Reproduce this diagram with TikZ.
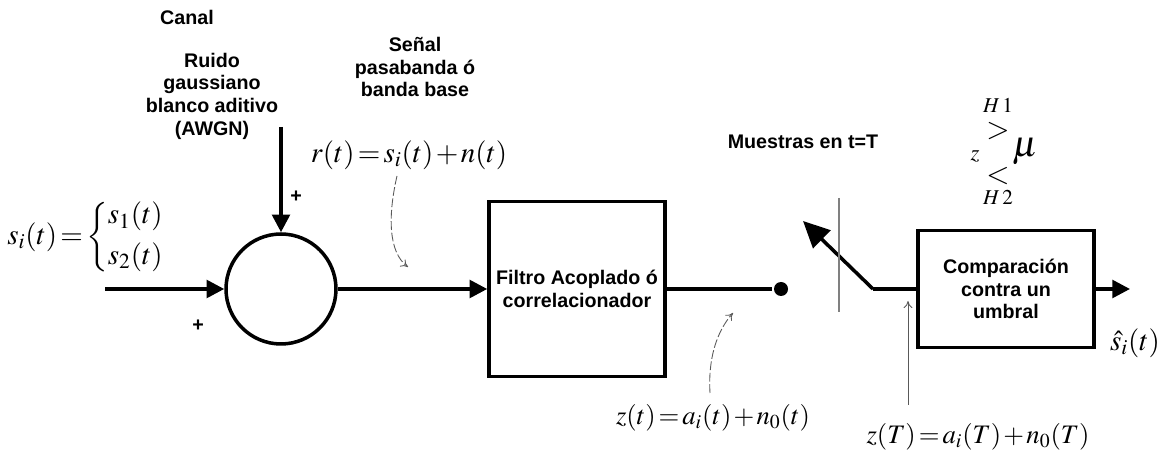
\documentclass[tikz,border=0pt]{standalone}
\usepackage{mathptmx}
\usepackage{fontspec}
\setmainfont{Liberation Serif}
\setsansfont{Liberation Sans}
\usetikzlibrary{arrows.meta}
\thickmuskip=2mu
\medmuskip=1.5mu

\begin{document}
\begin{tikzpicture}
   [x=0.02cm,y=-0.02cm,line width=2pt,
    lbl/.style={font=\sffamily\bfseries\fontsize{11.2}{12.9}\selectfont,align=center},
    eq/.style={font=\fontsize{16.5}{20}\selectfont},
    eqs/.style={font=\fontsize{15.2}{18}\selectfont},
    hip/.style={inner sep=0pt},
    bloque/.style={draw,rectangle,line width=2pt,inner sep=2pt},
    flecha/.style={-{Triangle[length=10pt,width=10pt]}},
    guia/.style={gray!70!black,line width=0.5pt,-{To[length=4pt,width=5pt]}}]
  \useasboundingbox (0,0) rectangle (1160,465);

  % bloques
  \node[circle,draw,minimum size=2.2cm,inner sep=0] (sum) at (281,289) {};
  \node[bloque,minimum width=3.52cm,minimum height=3.5cm,lbl] (filtro) at (577,289)
       {Filtro Acoplado ó\\correlacionador};
  \node[circle,fill,inner sep=0,minimum size=0.28cm] (punto) at (781,289) {};
  \node[bloque,minimum width=3.52cm,minimum height=2.34cm,lbl] (comp) at (1006,289)
       {Comparación\\contra un\\umbral};

  \coordinate (ent) at (105,289);
  \coordinate (ruido) at (281,127);
  \coordinate (piv) at (873,289);
  \coordinate (sw) at (803,221);
  \coordinate (sal) at (1130,289);

  \foreach \from/\to in {ent/sum, ruido/sum, sum/filtro, comp/sal}
    \draw[flecha] (\from) -- (\to);
  \foreach \from/\to in {filtro/punto, piv/comp}
    \draw (\from) -- (\to);
  \draw[-{Triangle[length=15pt,width=14pt]}] (piv) -- (sw);

  % textos
  \node[lbl] (canal) at (187,17) {Canal};
  \node[lbl] (awgn) at (212,96) {Ruido\\gaussiano\\blanco aditivo\\(AWGN)};
  \node[lbl] (senal) at (415,67) {Señal\\pasabanda ó\\banda base};
  \node[lbl] (muestras) at (803,142) {Muestras en t=T};
  \node[lbl] (mas1) at (198,326) {+};
  \node[lbl] (mas2) at (296,197) {+};

  \node[eq] (si) at (86,237)
       {$s_i(t)=\left\{\begin{array}{@{}l@{}}s_1(t)\\[3pt] s_2(t)\end{array}\right.$};
  \node[eq] (rt) at (409,155) {$r(t)=s_i(t)+n(t)$};
  \node[eqs] (zt) at (713,418) {$z(t)=a_i(t)+n_0(t)$};
  \node[eqs] (zT) at (978,437) {$z(T)=a_i(T)+n_0(T)$};
  \node[eq,hip] (shat) at (1135,343) {$\hat{s}_i(t)$};

  \node[hip,font=\fontsize{12}{14}\selectfont] (h1) at (998,105) {$H\,1$};
  \node[hip,font=\fontsize{17}{18}\selectfont] (mayor) at (998,131) {$>$};
  \node[hip,font=\fontsize{13}{15}\selectfont] (zz) at (975,156) {$z$};
  \node[hip,font=\fontsize{21}{22}\selectfont] (mu) at (1025,152) {$\mu$};
  \node[hip,font=\fontsize{17}{18}\selectfont] (menor) at (998,176) {$<$};
  \node[hip,font=\fontsize{12}{14}\selectfont] (h2) at (998,197) {$H\,2$};

  % guias finas
  \draw[gray,line width=0.6pt] (839,198) -- (839,312);
  \coordinate (g1a) at (397,176);
  \coordinate (g1b) at (408,267);
  \draw[guia,dash pattern=on 5pt off 1.5pt] (g1a) .. controls (388,215) and (388,252) .. (g1b);
  \coordinate (g2a) at (710,393);
  \coordinate (g2b) at (733,313);
  \draw[guia,dash pattern=on 5pt off 1.5pt] (g2a) .. controls (708,360) and (716,332) .. (g2b);
  \coordinate (g3a) at (908,405);
  \coordinate (g3b) at (908,301);
  \draw[guia] (g3a) -- (g3b);

\end{tikzpicture}
\end{document}
